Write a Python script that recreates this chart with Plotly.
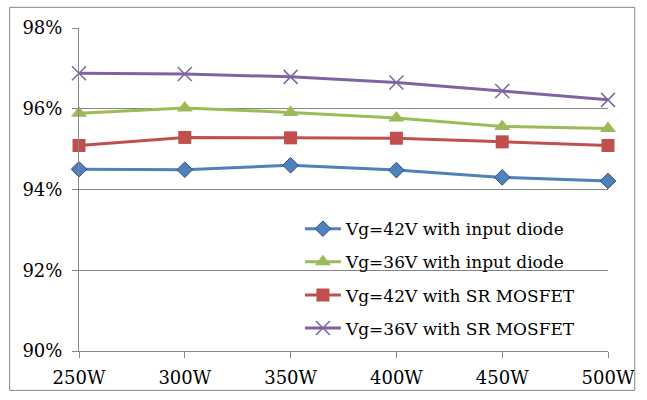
import plotly.graph_objects as go

categories = ["250W", "300W", "350W", "400W", "450W", "500W"]
names = ["Vg=42V with input diode", "Vg=36V with input diode",
         "Vg=42V with SR MOSFET", "Vg=36V with SR MOSFET"]
v42_diode = [94.50, 94.49, 94.60, 94.48, 94.30, 94.21]
v36_diode = [95.89, 96.02, 95.91, 95.77, 95.56, 95.51]
v42_sr = [95.09, 95.29, 95.28, 95.27, 95.18, 95.09]
v36_sr = [96.88, 96.86, 96.79, 96.65, 96.44, 96.22]
y_ticks = [90, 92, 94, 96, 98]
y_tick_labels = ["90%", "92%", "94%", "96%", "98%"]

series = [v42_diode, v36_diode, v42_sr, v36_sr]
colors = ["#4F81BD", "#9BBB59", "#C0504D", "#8064A2"]
symbols = ["diamond", "triangle-up", "square", "x-thin"]
sizes = [12, 14, 13, 14]

FONT = "DejaVu Serif"

fig = go.Figure()
for i, (name, vals, c, s, sz) in enumerate(zip(names, series, colors, symbols, sizes)):
    mk = dict(symbol=s, size=sz, color=c)
    if s == "x-thin":
        mk["line"] = dict(color=c, width=1.5)
    elif s == "diamond":
        mk["line"] = dict(color="#2F4F7F", width=1)
    else:
        mk["line"] = dict(width=0)
    fig.add_trace(go.Scatter(x=categories, y=vals, name=name, mode="lines+markers",
                             legendgroup=f"g{i}",
                             line=dict(color=c, width=3), marker=mk, cliponaxis=False))

L, R, T, B = 79, 34, 28, 44
W, H = 647, 400
pw, ph = W - L - R, H - T - B

fig.update_layout(
    width=W, height=H,
    margin=dict(l=L, r=R, t=T, b=B),
    paper_bgcolor="white", plot_bgcolor="white",
    font=dict(family=FONT, size=18, color="#000000"),
    showlegend=True,
    legend=dict(x=(302 - L) / pw, y=(H - B - 214) / ph, xanchor="left", yanchor="top",
                bgcolor="rgba(0,0,0,0)", font=dict(size=17, family=FONT),
                itemwidth=36, tracegroupgap=8, traceorder="grouped"),
    xaxis=dict(type="category", range=[0, 5], showgrid=False, showline=True,
               linecolor="#868686", linewidth=1, ticks="outside", ticklen=6,
               tickcolor="#868686", tickfont=dict(size=18, family=FONT),
               ticklabelstandoff=4),
    yaxis=dict(range=[90, 98], tickvals=y_ticks, ticktext=y_tick_labels,
               showgrid=True, gridcolor="#868686", gridwidth=1, showline=True,
               linecolor="#868686", linewidth=1, ticks="outside", ticklen=6,
               tickcolor="#868686", tickfont=dict(size=18, family=FONT), zeroline=False,
               ticklabelstandoff=6),
    shapes=[dict(type="rect", xref="paper", yref="paper",
                 x0=(9 - L) / pw, x1=(640 - L) / pw,
                 y0=-(396 - (H - B)) / ph, y1=1 + (T - 7) / ph,
                 line=dict(color="#868686", width=1), fillcolor="rgba(0,0,0,0)")],
)

fig.write_html("out.html")
